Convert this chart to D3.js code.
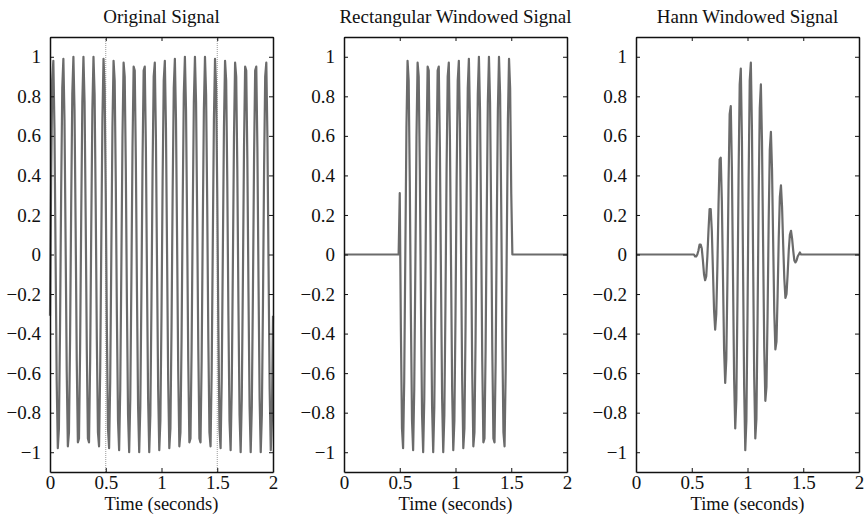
<!DOCTYPE html>
<html>
<head>
<meta charset="utf-8">
<script src="https://cdn.jsdelivr.net/npm/d3@7"></script>
<style>
  body { margin: 0; background: #fff; }
  svg text { font-family: 'Liberation Serif', 'DejaVu Serif', serif; fill: #111; }
</style>
</head>
<body>
<script>
// Data
const sampleRate = 100
const titles = ['Original Signal', 'Rectangular Windowed Signal', 'Hann Windowed Signal']
const xLabel = 'Time (seconds)'
const xTicks = [0, 0.5, 1, 1.5, 2]
const yTicks = [-1, -0.8, -0.6, -0.4, -0.2, 0, 0.2, 0.4, 0.6, 0.8, 1]
const markerTimes = [0.5, 1.5]
const windowStart = 50 // sample index where the window begins

// 11 Hz sine sampled at 100 Hz, 0 to 2 s
const originalSignal = [
  -0.31, 0.37, 0.88, 0.98, 0.64, 0.00, -0.64, -0.98, -0.88, -0.37,
  0.31, 0.84, 0.99, 0.68, 0.06, -0.59, -0.97, -0.90, -0.43, 0.25,
  0.81, 1.00, 0.73, 0.13, -0.54, -0.95, -0.93, -0.48, 0.19, 0.77,
  1.00, 0.77, 0.19, -0.48, -0.93, -0.95, -0.54, 0.13, 0.73, 1.00,
  0.81, 0.25, -0.43, -0.90, -0.97, -0.59, 0.06, 0.68, 0.99, 0.84,
  0.31, -0.37, -0.88, -0.98, -0.64, 0.00, 0.64, 0.98, 0.88, 0.37,
  -0.31, -0.84, -0.99, -0.68, -0.06, 0.59, 0.97, 0.90, 0.43, -0.25,
  -0.81, -1.00, -0.73, -0.13, 0.54, 0.95, 0.93, 0.48, -0.19, -0.77,
  -1.00, -0.77, -0.19, 0.48, 0.93, 0.95, 0.54, -0.13, -0.73, -1.00,
  -0.81, -0.25, 0.43, 0.90, 0.97, 0.59, -0.06, -0.68, -0.99, -0.84,
  -0.31, 0.37, 0.88, 0.98, 0.64, 0.00, -0.64, -0.98, -0.88, -0.37,
  0.31, 0.84, 0.99, 0.68, 0.06, -0.59, -0.97, -0.90, -0.43, 0.25,
  0.81, 1.00, 0.73, 0.13, -0.54, -0.95, -0.93, -0.48, 0.19, 0.77,
  1.00, 0.77, 0.19, -0.48, -0.93, -0.95, -0.54, 0.13, 0.73, 1.00,
  0.81, 0.25, -0.43, -0.90, -0.97, -0.59, 0.06, 0.68, 0.99, 0.84,
  0.31, -0.37, -0.88, -0.98, -0.64, 0.00, 0.64, 0.98, 0.88, 0.37,
  -0.31, -0.84, -0.99, -0.68, -0.06, 0.59, 0.97, 0.90, 0.43, -0.25,
  -0.81, -1.00, -0.73, -0.13, 0.54, 0.95, 0.93, 0.48, -0.19, -0.77,
  -1.00, -0.77, -0.19, 0.48, 0.93, 0.95, 0.54, -0.13, -0.73, -1.00,
  -0.81, -0.25, 0.43, 0.90, 0.97, 0.59, -0.06, -0.68, -0.99, -0.84,
  -0.31
]

// Samples 50..150 kept by the rectangular window
const rectSegment = [
  0.31, -0.37, -0.88, -0.98, -0.64, 0.00, 0.64, 0.98, 0.88, 0.37,
  -0.31, -0.84, -0.99, -0.68, -0.06, 0.59, 0.97, 0.90, 0.43, -0.25,
  -0.81, -1.00, -0.73, -0.13, 0.54, 0.95, 0.93, 0.48, -0.19, -0.77,
  -1.00, -0.77, -0.19, 0.48, 0.93, 0.95, 0.54, -0.13, -0.73, -1.00,
  -0.81, -0.25, 0.43, 0.90, 0.97, 0.59, -0.06, -0.68, -0.99, -0.84,
  -0.31, 0.37, 0.88, 0.98, 0.64, 0.00, -0.64, -0.98, -0.88, -0.37,
  0.31, 0.84, 0.99, 0.68, 0.06, -0.59, -0.97, -0.90, -0.43, 0.25,
  0.81, 1.00, 0.73, 0.13, -0.54, -0.95, -0.93, -0.48, 0.19, 0.77,
  1.00, 0.77, 0.19, -0.48, -0.93, -0.95, -0.54, 0.13, 0.73, 1.00,
  0.81, 0.25, -0.43, -0.90, -0.97, -0.59, 0.06, 0.68, 0.99, 0.84,
  0.31
]

// Samples 50..150 after the Hann window
const hannSegment = [
  0.00, 0.00, 0.00, -0.01, -0.01, 0.00, 0.02, 0.05, 0.05, 0.03,
  -0.03, -0.10, -0.13, -0.11, -0.01, 0.12, 0.23, 0.23, 0.12, -0.08,
  -0.28, -0.38, -0.30, -0.06, 0.25, 0.48, 0.49, 0.27, -0.11, -0.48,
  -0.65, -0.53, -0.13, 0.36, 0.71, 0.75, 0.44, -0.11, -0.63, -0.88,
  -0.73, -0.23, 0.40, 0.86, 0.94, 0.58, -0.06, -0.67, -0.99, -0.84,
  -0.31, 0.37, 0.88, 0.97, 0.63, 0.00, -0.62, -0.93, -0.83, -0.34,
  0.28, 0.74, 0.86, 0.57, 0.05, -0.47, -0.74, -0.67, -0.31, 0.17,
  0.53, 0.62, 0.43, 0.07, -0.29, -0.48, -0.44, -0.21, 0.08, 0.29,
  0.35, 0.24, 0.05, -0.12, -0.22, -0.20, -0.10, 0.02, 0.10, 0.12,
  0.08, 0.02, -0.03, -0.04, -0.03, -0.01, 0.00, 0.01, 0.00, 0.00,
  0.00
]

// Turn value lists into {t, v} points, zero outside the window
function toPoints(values) {
  return values.map((v, i) => ({ t: i / sampleRate, v: v }))
}

function windowed(segment) {
  return originalSignal.map((_, i) => {
    const k = i - windowStart
    return { t: i / sampleRate, v: k >= 0 && k < segment.length ? segment[k] : 0 }
  })
}

const series = [toPoints(originalSignal), windowed(rectSegment), windowed(hannSegment)]

// Layout
const width = 864
const height = 515
const panelLefts = [50, 344, 636]
const panelWidth = 223
const marginTop = 37
const panelHeight = 435
const lineColor = '#6b6b6b'
const fontSize = 19

const svg = d3.select('body')
  .append('svg')
  .attr('width', width)
  .attr('height', height)

const fmt = d => d3.format('')(d)

series.forEach((points, p) => {
  const g = svg.append('g')
    .attr('transform', `translate(${panelLefts[p]}, ${marginTop})`)

  const xScale = d3.scaleLinear()
    .domain([0, 2])
    .range([0, panelWidth])
  const yScale = d3.scaleLinear()
    .domain([-1.1, 1.1])
    .range([panelHeight, 0])

  // Dotted markers in the first panel
  if (p === 0) {
    g.selectAll('.marker')
      .data(markerTimes)
      .enter()
      .append('line')
      .attr('class', 'marker')
      .attr('x1', d => xScale(d))
      .attr('x2', d => xScale(d))
      .attr('y1', 0)
      .attr('y2', panelHeight)
      .attr('stroke', '#999')
      .attr('stroke-width', 1)
      .attr('stroke-dasharray', '1,1')
  }

  // Signal
  const line = d3.line()
    .x(d => xScale(d.t))
    .y(d => yScale(d.v))
  g.append('path')
    .datum(points)
    .attr('d', line)
    .attr('fill', 'none')
    .attr('stroke', lineColor)
    .attr('stroke-width', 2.2)
    .attr('stroke-linejoin', 'round')

  // Axes with inward ticks, box all round
  const xAxis = d3.axisBottom(xScale)
    .tickValues(xTicks)
    .tickSizeInner(-4)
    .tickSizeOuter(0)
    .tickPadding(3)
    .tickFormat(fmt)
  const yAxis = d3.axisLeft(yScale)
    .tickValues(yTicks)
    .tickSizeInner(-4)
    .tickSizeOuter(0)
    .tickPadding(9)
    .tickFormat(fmt)

  g.append('g')
    .attr('transform', `translate(0, ${panelHeight})`)
    .call(xAxis)
  g.append('g')
    .call(yAxis)
  g.append('g')
    .call(d3.axisTop(xScale).tickValues(xTicks).tickSizeInner(-4).tickSizeOuter(0).tickFormat(''))
  g.append('g')
    .attr('transform', `translate(${panelWidth}, 0)`)
    .call(d3.axisRight(yScale).tickValues(yTicks).tickSizeInner(-4).tickSizeOuter(0).tickFormat(''))

  g.selectAll('.domain')
    .attr('stroke', '#111')
    .attr('stroke-width', 1.5)
  g.selectAll('.tick line')
    .attr('stroke', '#111')
  g.selectAll('.tick text')
    .attr('font-size', fontSize)
    .attr('font-family', "'Liberation Serif', serif")

  // Title
  g.append('text')
    .attr('x', panelWidth / 2)
    .attr('y', -14)
    .attr('text-anchor', 'middle')
    .attr('font-size', fontSize)
    .text(titles[p])

  // X label
  g.append('text')
    .attr('x', panelWidth / 2)
    .attr('y', panelHeight + 38)
    .attr('text-anchor', 'middle')
    .attr('font-size', 18.5)
    .text(xLabel)
})
</script>
</body>
</html>
